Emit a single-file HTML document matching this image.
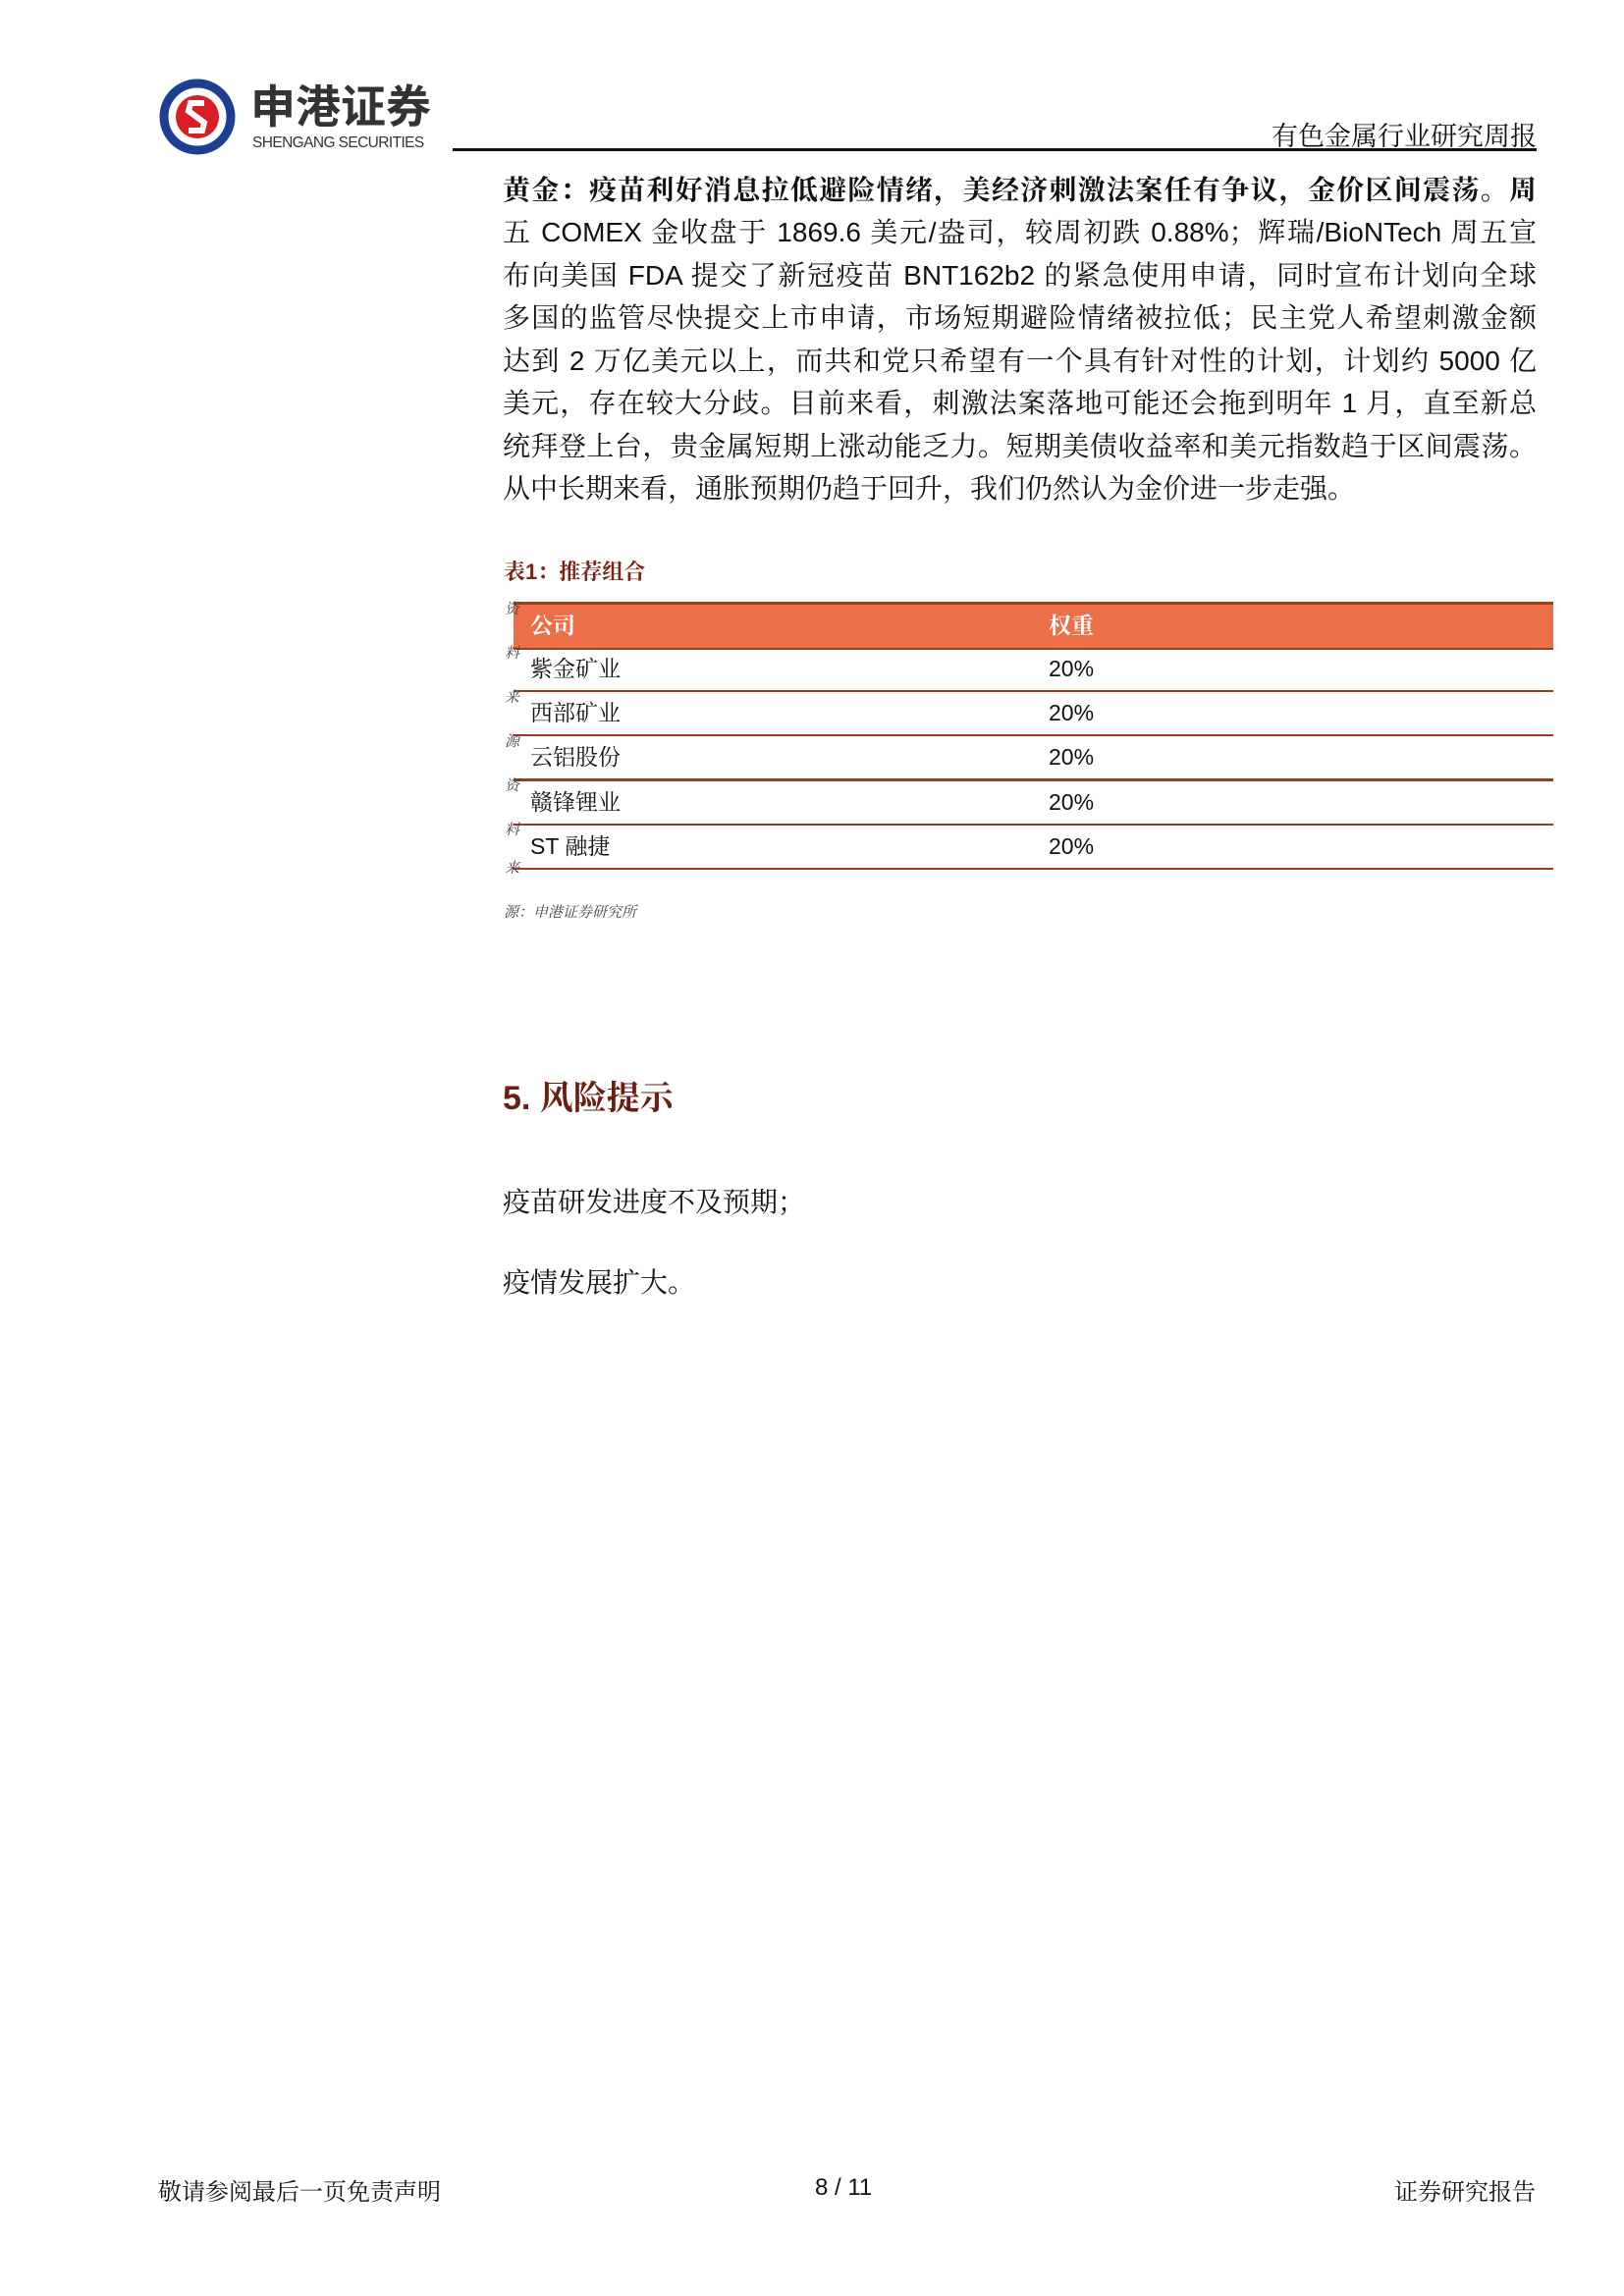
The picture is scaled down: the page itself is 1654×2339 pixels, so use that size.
<!DOCTYPE html>
<html><head><meta charset="utf-8">
<style>
body{margin:0;width:1654px;height:2339px;background:#fff;position:relative;overflow:hidden;font-family:"Liberation Sans","Noto Serif CJK SC",serif;color:#111}
.a{position:absolute;white-space:nowrap}
.ln{position:absolute;left:512px;width:1053px;font-size:28px;line-height:43.5px;text-align:justify;text-align-last:justify;white-space:nowrap}
.ln.last{text-align-last:left}
.row{position:absolute;left:523px;width:1059px;height:45px;border-bottom:2px solid #9c3a24}
.c1{position:absolute;left:17px;top:9px;font-size:23px;line-height:28px}
.c2{position:absolute;left:545px;top:9px;font-size:23px;line-height:28px}
.side{position:absolute;left:514px;font-size:15px;font-style:italic;color:#444;line-height:18px}
</style></head><body>
<div class="a" style="left:162px;top:80px;width:78px;height:78px">
<svg width="78" height="78" viewBox="0 0 78 78"><circle cx="39" cy="39" r="34" fill="#fff" stroke="#1d3f91" stroke-width="9"/><circle cx="39" cy="39" r="22" fill="#d81f26"/><path d="M46 25 L32 25 L30 33 L46 45 L44 53 L30 53" stroke="#fff" stroke-width="6" fill="none"/></svg></div>
<div class="a" style="left:255px;top:78px;font-size:46px;line-height:56px;font-weight:bold;font-family:'Noto Sans CJK SC',sans-serif;color:#333">申港证券</div>
<div class="a" style="left:257px;top:137px;font-size:15.5px;line-height:18px;color:#333;letter-spacing:-0.6px">SHENGANG SECURITIES</div>
<div class="a" style="right:89px;top:117px;font-size:27px">有色金属行业研究周报</div>
<div class="a" style="left:461px;top:151px;width:1104px;height:3px;background:#111"></div>

<div>
<div class="ln" style="top:172px;font-weight:bold">黄金：疫苗利好消息拉低避险情绪，美经济刺激法案任有争议，金价区间震荡。周</div>
<div class="ln" style="top:215px">五 COMEX 金收盘于 1869.6 美元/盎司，较周初跌 0.88%；辉瑞/BioNTech 周五宣</div>
<div class="ln" style="top:259px">布向美国 FDA 提交了新冠疫苗 BNT162b2 的紧急使用申请，同时宣布计划向全球</div>
<div class="ln" style="top:302px">多国的监管尽快提交上市申请，市场短期避险情绪被拉低；民主党人希望刺激金额</div>
<div class="ln" style="top:346px">达到 2 万亿美元以上，而共和党只希望有一个具有针对性的计划，计划约 5000 亿</div>
<div class="ln" style="top:389px">美元，存在较大分歧。目前来看，刺激法案落地可能还会拖到明年 1 月，直至新总</div>
<div class="ln" style="top:433px">统拜登上台，贵金属短期上涨动能乏力。短期美债收益率和美元指数趋于区间震荡。</div>
<div class="ln last" style="top:476px">从中长期来看，通胀预期仍趋于回升，我们仍然认为金价进一步走强。</div>
</div>

<div class="a" style="left:513px;top:566px;font-size:22px;font-weight:bold;color:#7a2417">表1：推荐组合</div>
<div>
<div class="a" style="left:523px;top:613px;width:1059px;height:44px;background:#ec6f4a;border-top:3px solid #a83a20;border-bottom:2px solid #a83a20;color:#fff;font-weight:bold">
<span class="c1" style="top:7px">公司</span><span class="c2" style="top:7px">权重</span></div>
<div class="row" style="top:658px"><span class="c1">紫金矿业</span><span class="c2">20%</span></div>
<div class="row" style="top:703px"><span class="c1">西部矿业</span><span class="c2">20%</span></div>
<div class="row" style="top:748px;border-bottom:3px solid #9c3a24"><span class="c1">云铝股份</span><span class="c2">20%</span></div>
<div class="row" style="top:794px"><span class="c1">赣锋锂业</span><span class="c2">20%</span></div>
<div class="row" style="top:839px"><span class="c1">ST 融捷</span><span class="c2">20%</span></div>
</div>
<div>
<div class="side" style="top:612px">资</div><div class="side" style="top:657px">料</div><div class="side" style="top:702px">来</div><div class="side" style="top:747px">源</div><div class="side" style="top:792px">资</div><div class="side" style="top:837px">料</div><div class="side" style="top:876px">来</div>
</div>
<div class="a" style="left:513px;top:918px;font-size:15px;font-style:italic;color:#444">源：申港证券研究所</div>

<div class="a" style="left:512px;top:1091px;font-size:34px;font-weight:bold;color:#6b1f14">5. 风险提示</div>
<div class="a" style="left:512px;top:1203px;font-size:28px">疫苗研发进度不及预期；</div>
<div class="a" style="left:512px;top:1285px;font-size:28px">疫情发展扩大。</div>

<div class="a" style="left:161px;top:2213px;font-size:24px">敬请参阅最后一页免责声明</div>
<div class="a" style="left:830px;top:2215px;font-size:24px">8 / 11</div>
<div class="a" style="right:90px;top:2213px;font-size:24px">证券研究报告</div>
</body></html>
